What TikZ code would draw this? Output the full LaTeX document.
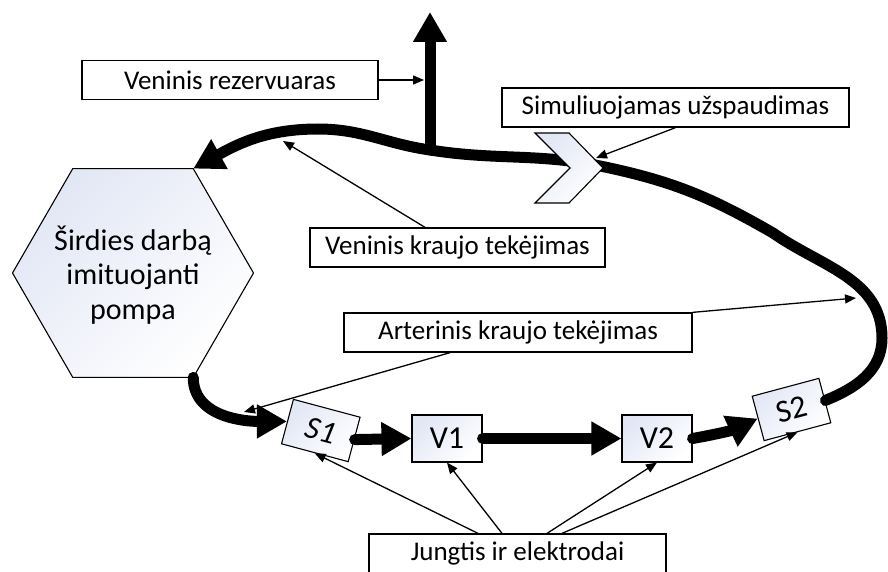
\documentclass[tikz,border=0pt]{standalone}
\usepackage{fontspec}
\setmainfont{Carlito}
\usetikzlibrary{arrows.meta,shapes.geometric,calc}
\definecolor{paleblue}{RGB}{226,231,245}
\newcommand\diagfont{\fontsize{27pt}{33pt}\selectfont}
\newcommand\pumpfont{\fontsize{30pt}{34.5pt}\selectfont}
\newcommand\partfont{\fontsize{32pt}{36pt}\selectfont}
\begin{document}
\begin{tikzpicture}[x=1pt,y=1pt,
  every node/.style={font=\diagfont},
  labelbox/.style={draw, line width=1.3pt, minimum height=39pt, inner sep=0pt},
  partbox/.style={draw, line width=1.1pt, top color=paleblue, bottom color=white,
    shading angle=45, minimum width=69pt, minimum height=46pt, inner sep=0pt,
    font=\partfont},
  flow/.style={line width=11pt, line cap=round, -{Triangle[length=30pt,width=32pt]}},
  pointer/.style={line width=1.3pt, -{Triangle[length=11pt,width=9pt]}},
]
\useasboundingbox (0,0) rectangle (888,-572);

% labels
\node[labelbox, minimum width=296pt] (resbox)   at (230,-80)    {Veninis rezervuaras};
\node[labelbox, minimum width=347pt] (clampbox) at (675.5,-107.5) {Simuliuojamas užspaudimas};
\node[labelbox, minimum width=295pt] (venbox)   at (457.5,-247.5) {Veninis kraujo tekėjimas};
\node[labelbox, minimum width=348pt] (artbox)   at (518,-332.5) {Arterinis kraujo tekėjimas};
\node[labelbox, minimum width=297pt] (jungbox)  at (517.5,-553.5) {Jungtis ir elektrodai};

% pump
\node[regular polygon, regular polygon sides=6, minimum size=241pt, inner sep=0pt,
  draw, line width=1.1pt, top color=paleblue, bottom color=white, shading angle=45]
  (pump) at (133,-273) {};
\node[align=center, font=\pumpfont, inner sep=0pt] (pumptext) at ([yshift=-2pt]pump.center)
  {Širdies darbą\\imituojanti\\pompa};
\coordinate (pumpTR) at ($(pump.center)+(60:120.5pt)$);
\coordinate (pumpBR) at ($(pump.center)+(-60:120.5pt)$);

% sensors and valves
\node[partbox, rotate=-15, font=\partfont\itshape] (S1) at (320.8,-430.5) {S1};
\node[partbox, minimum width=70pt, minimum height=47pt] (V1) at (447,-438.5) {V1};
\node[partbox, minimum width=70pt, minimum height=47pt] (V2) at (657,-438.5) {V2};
\node[partbox, rotate=15] (S2) at (791.5,-409.5) {S2};

% arterial line
\draw[flow] (pumpBR) to[out=-90,in=180] (S1.west);
\draw[flow] (S1.east) -- (V1.west);
\draw[flow] (V1.east) -- (V2.west);
\draw[flow] (V2.east) to[out=10,in=205] (S2.west);

% return loop back to the pump
\coordinate (w1) at (882,-338);
\coordinate (w2) at (773,-233);
\coordinate (w3) at (605,-167);
\coordinate (drainBase) at (430,-150);
\coordinate (w5) at (318,-129);
\draw[flow] (S2.east) to[out=22,in=-90] (w1) to[out=90,in=-35] (w2)
  to[out=150,in=-12] (w3) to[out=168,in=-9] (drainBase) to[out=172,in=0] (w5)
  to[out=180,in=29] (pumpTR);

% reservoir outlet
\coordinate (drainTip) at (430,-12);
\draw[flow] (drainBase) -- (drainTip);

% clamp
\draw[line width=1.1pt, top color=paleblue, bottom color=white, shading angle=45]
  (535,-133) -- (569,-133) -- (603,-168) -- (569,-203) -- (535,-203) -- (570,-168) -- cycle;

% pointers
\coordinate (drainSide) at (424,-80);
\coordinate (clampEdge) at (596,-158);
\coordinate (veinPt) at (283,-141);
\coordinate (artPt) at (856,-298);
\coordinate (artPt2) at (244,-412);
\draw[pointer] (resbox.east) -- (drainSide);
\draw[pointer] (clampbox.south) -- (clampEdge);
\draw[pointer] ([xshift=-32.5pt]venbox.north) -- (veinPt);
\draw[pointer] (artbox.north east) -- (artPt);
\draw[pointer] ([xshift=-68pt]artbox.south) -- (artPt2);
\draw[pointer] ([xshift=-39.5pt]jungbox.north) -- (S1.south);
\draw[pointer] ([xshift=-15.5pt]jungbox.north) -- (V1.south);
\draw[pointer] ([xshift=29.5pt]jungbox.north) -- (V2.south);
\draw[pointer] ([xshift=44.5pt]jungbox.north) -- (S2.south);
\end{tikzpicture}
\end{document}
